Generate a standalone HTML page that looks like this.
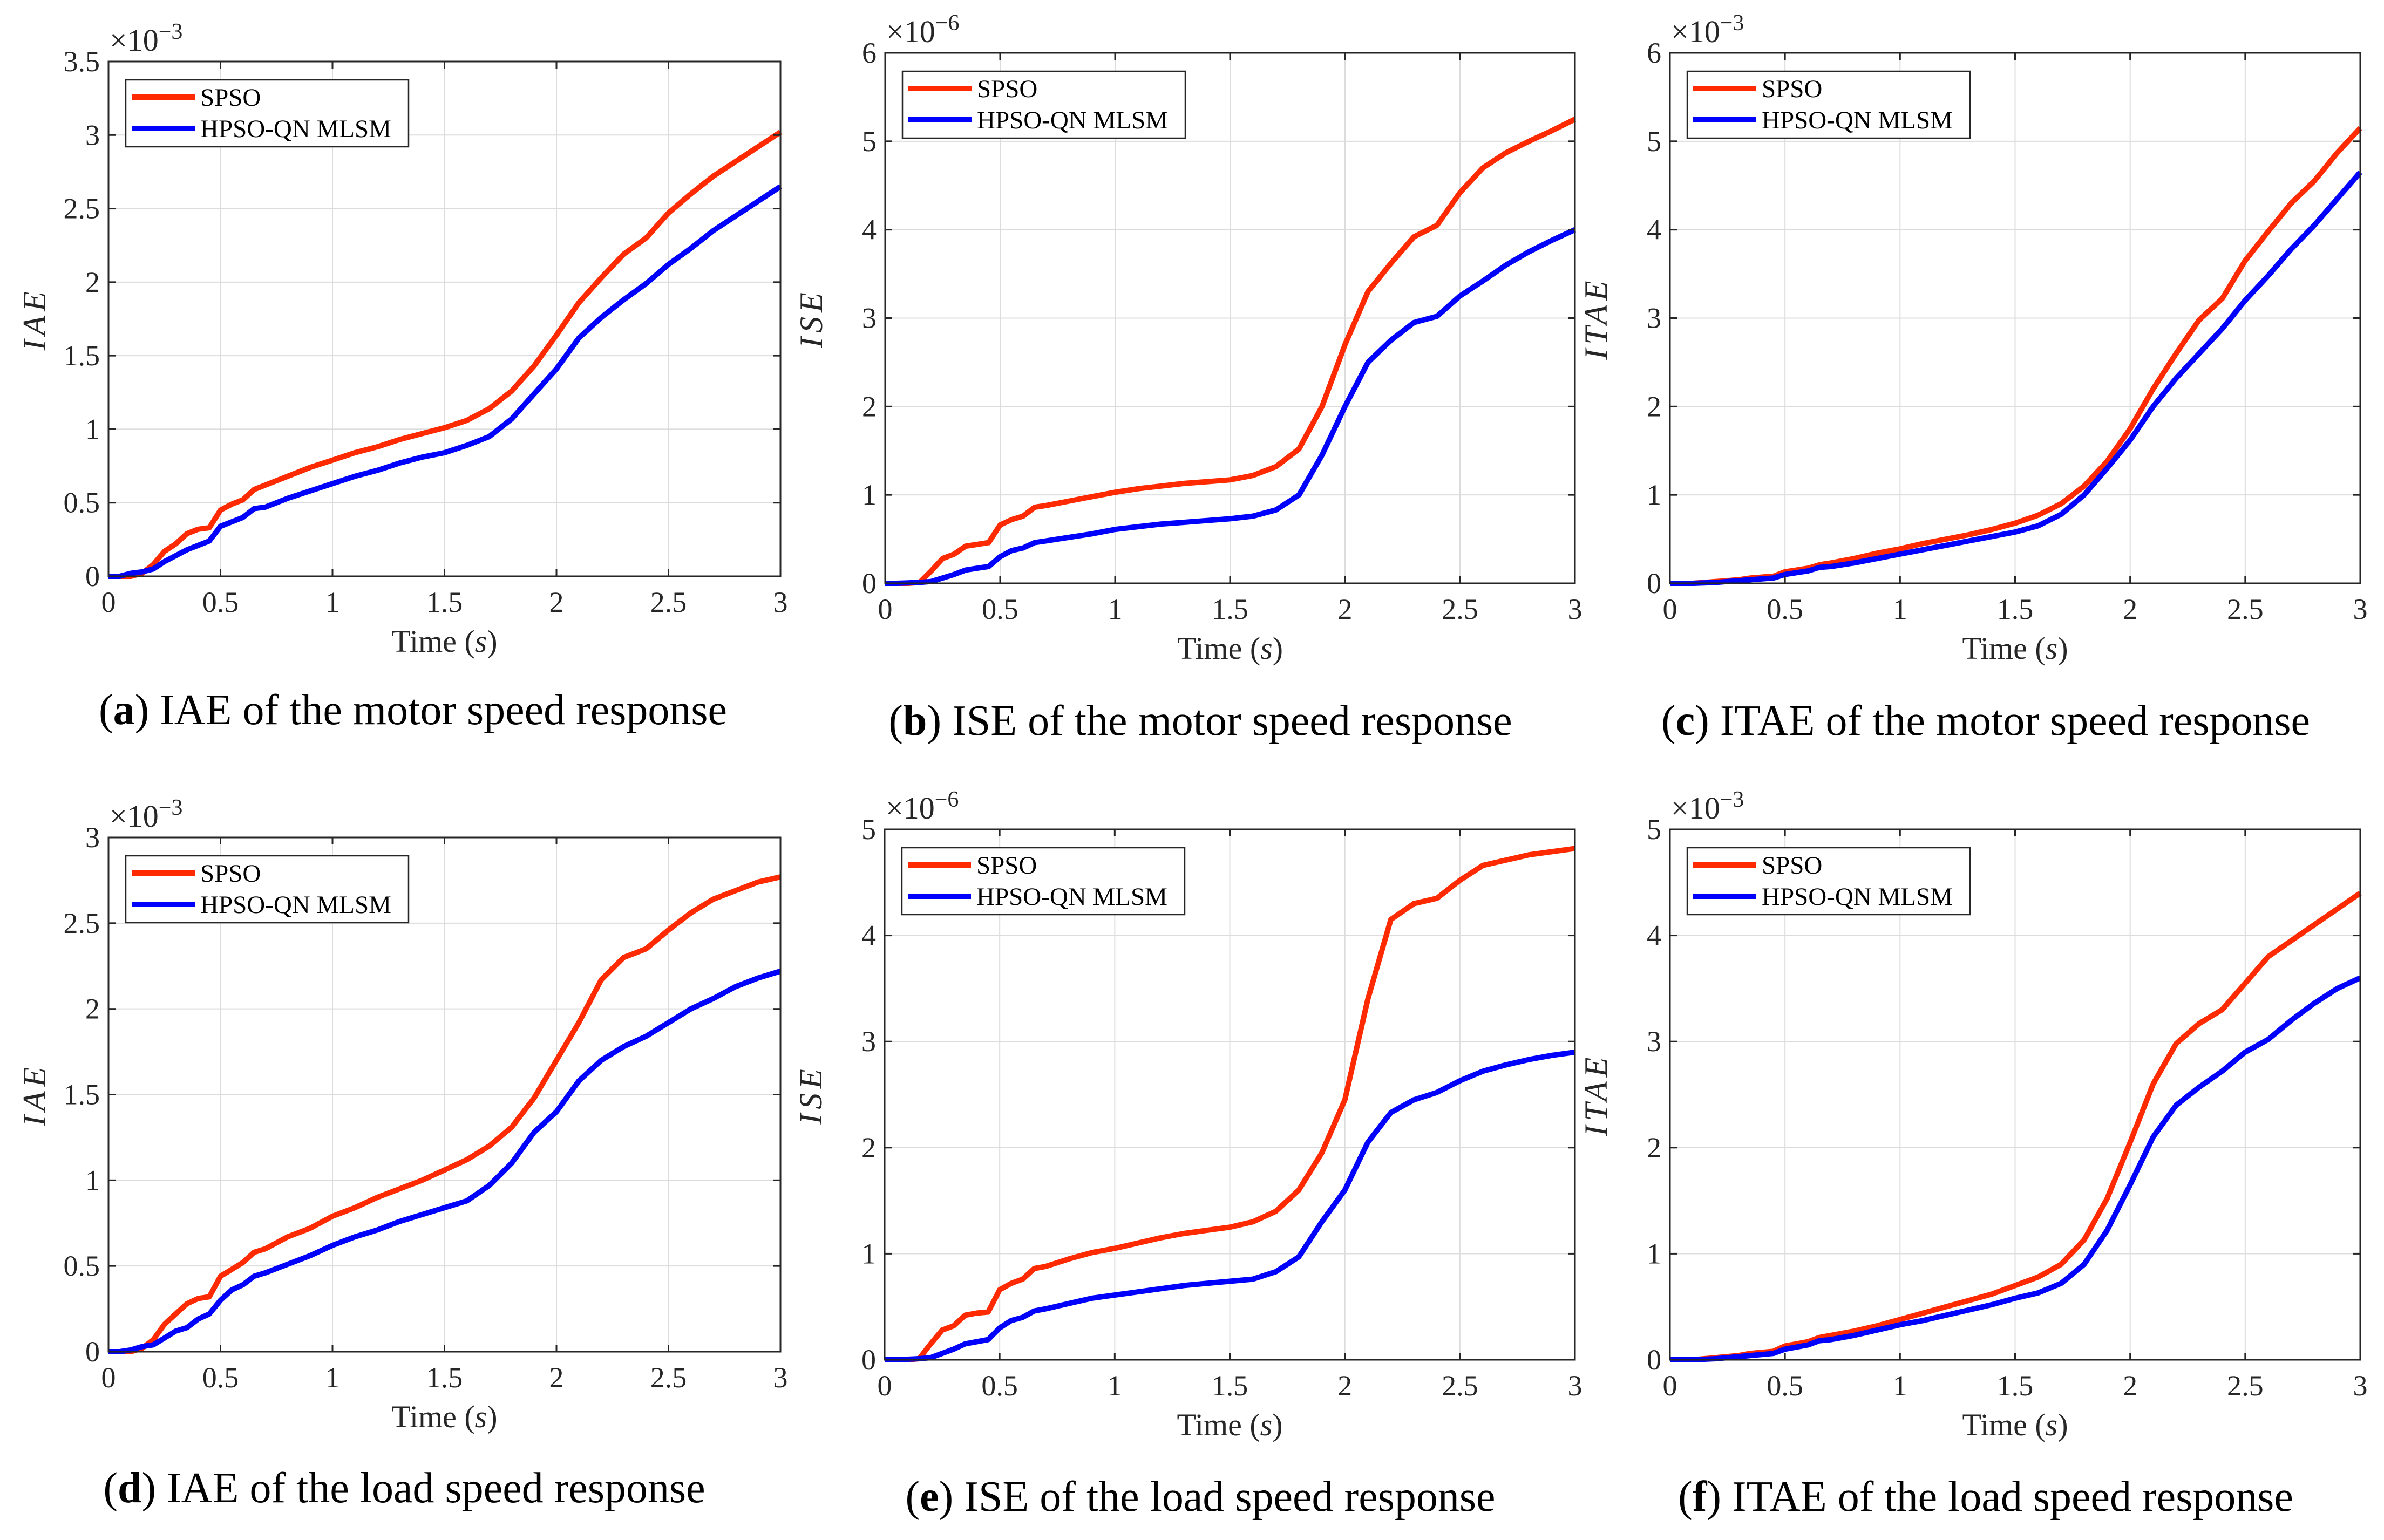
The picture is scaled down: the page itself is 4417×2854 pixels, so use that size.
<!DOCTYPE html>
<html><head><meta charset="utf-8">
<style>
html,body{margin:0;padding:0;background:#fff;}
svg{display:block;font-family:"Liberation Serif",serif;}
</style></head>
<body>
<svg id="fig" width="4417" height="2854" viewBox="0 0 4417 2854" xmlns="http://www.w3.org/2000/svg"></svg>
<script>
// shared time samples (s)
const times = [0,0.05,0.1,0.15,0.2,0.25,0.3,0.35,0.4,0.45,0.5,0.55,0.6,0.65,0.7,0.8,0.9,1.0,1.1,1.2,1.3,1.4,1.5,1.6,1.7,1.8,1.9,2.0,2.1,2.2,2.3,2.4,2.5,2.6,2.7,2.8,2.9,3.0];
const xTicks = [0,0.5,1,1.5,2,2.5,3];
const xTickLabels = ["0","0.5","1","1.5","2","2.5","3"];
const seriesNames = ["SPSO","HPSO-QN MLSM"];

const aSPSO = [0,0,0,0.02,0.08,0.17,0.22,0.29,0.32,0.33,0.45,0.49,0.52,0.59,0.62,0.68,0.74,0.79,0.84,0.88,0.93,0.97,1.01,1.06,1.14,1.26,1.43,1.64,1.86,2.03,2.19,2.3,2.47,2.6,2.72,2.82,2.92,3.02];
const aHPSO = [0,0,0.02,0.03,0.05,0.1,0.14,0.18,0.21,0.24,0.34,0.37,0.4,0.46,0.47,0.53,0.58,0.63,0.68,0.72,0.77,0.81,0.84,0.89,0.95,1.07,1.24,1.41,1.62,1.76,1.88,1.99,2.12,2.23,2.35,2.45,2.55,2.65];
const aYTicks = [0,0.5,1,1.5,2,2.5,3,3.5];
const aYTickLabels = ["0","0.5","1","1.5","2","2.5","3","3.5"];

const bSPSO = [0,0,0,0.01,0.14,0.28,0.33,0.42,0.44,0.46,0.66,0.72,0.76,0.86,0.88,0.93,0.98,1.03,1.07,1.1,1.13,1.15,1.17,1.22,1.32,1.52,2.0,2.7,3.3,3.62,3.92,4.05,4.42,4.7,4.87,5.0,5.12,5.25];
const bHPSO = [0,0,0.005,0.01,0.02,0.06,0.1,0.15,0.17,0.19,0.3,0.37,0.4,0.46,0.48,0.52,0.56,0.61,0.64,0.67,0.69,0.71,0.73,0.76,0.83,1.0,1.45,2.0,2.5,2.75,2.95,3.02,3.25,3.42,3.6,3.75,3.88,4.0];
const bYTicks = [0,1,2,3,4,5,6];
const bYTickLabels = ["0","1","2","3","4","5","6"];

const cSPSO = [0,0,0,0.01,0.02,0.03,0.04,0.06,0.07,0.08,0.13,0.15,0.17,0.21,0.23,0.28,0.34,0.39,0.45,0.5,0.55,0.61,0.68,0.77,0.9,1.1,1.38,1.75,2.2,2.6,2.98,3.22,3.65,3.98,4.3,4.55,4.87,5.15];
const cHPSO = [0,0,0,0.005,0.01,0.02,0.03,0.04,0.05,0.06,0.1,0.12,0.14,0.18,0.19,0.23,0.28,0.33,0.38,0.43,0.48,0.53,0.58,0.65,0.78,1.0,1.3,1.62,2.0,2.32,2.6,2.88,3.2,3.48,3.78,4.05,4.35,4.65];
const cYTicks = [0,1,2,3,4,5,6];
const cYTickLabels = ["0","1","2","3","4","5","6"];

const dSPSO = [0,0,0,0.02,0.07,0.16,0.22,0.28,0.31,0.32,0.44,0.48,0.52,0.58,0.6,0.67,0.72,0.79,0.84,0.9,0.95,1.0,1.06,1.12,1.2,1.31,1.48,1.7,1.92,2.17,2.3,2.35,2.46,2.56,2.64,2.69,2.74,2.77];
const dHPSO = [0,0,0.01,0.03,0.04,0.08,0.12,0.14,0.19,0.22,0.3,0.36,0.39,0.44,0.46,0.51,0.56,0.62,0.67,0.71,0.76,0.8,0.84,0.88,0.97,1.1,1.28,1.4,1.58,1.7,1.78,1.84,1.92,2.0,2.06,2.13,2.18,2.22];
const dYTicks = [0,0.5,1,1.5,2,2.5,3];
const dYTickLabels = ["0","0.5","1","1.5","2","2.5","3"];

const eSPSO = [0,0,0,0.01,0.15,0.28,0.32,0.42,0.44,0.45,0.66,0.72,0.76,0.86,0.88,0.95,1.01,1.05,1.1,1.15,1.19,1.22,1.25,1.3,1.4,1.6,1.95,2.45,3.4,4.15,4.3,4.35,4.52,4.66,4.71,4.76,4.79,4.82];
const eHPSO = [0,0,0.005,0.01,0.02,0.06,0.1,0.15,0.17,0.19,0.3,0.37,0.4,0.46,0.48,0.53,0.58,0.61,0.64,0.67,0.7,0.72,0.74,0.76,0.83,0.97,1.3,1.6,2.05,2.33,2.45,2.52,2.63,2.72,2.78,2.83,2.87,2.9];
const eYTicks = [0,1,2,3,4,5];
const eYTickLabels = ["0","1","2","3","4","5"];

const fSPSO = [0,0,0,0.01,0.02,0.03,0.04,0.06,0.07,0.08,0.13,0.15,0.17,0.21,0.23,0.27,0.32,0.38,0.44,0.5,0.56,0.62,0.7,0.78,0.9,1.13,1.52,2.05,2.6,2.98,3.17,3.3,3.55,3.8,3.95,4.1,4.25,4.4];
const fHPSO = [0,0,0,0.005,0.01,0.02,0.03,0.04,0.05,0.06,0.1,0.12,0.14,0.18,0.19,0.23,0.28,0.33,0.37,0.42,0.47,0.52,0.58,0.63,0.72,0.9,1.22,1.65,2.1,2.4,2.57,2.72,2.9,3.02,3.2,3.36,3.5,3.6];
const fYTicks = [0,1,2,3,4,5];
const fYTickLabels = ["0","1","2","3","4","5"];

const NS = "http://www.w3.org/2000/svg";
const svg = document.getElementById("fig");
function mk(tag, attrs, parent){
  const e = document.createElementNS(NS, tag);
  for (const k in attrs) e.setAttribute(k, attrs[k]);
  parent.appendChild(e);
  return e;
}

const panels = [
  {id:"a", L:201, R:1446, T:114, B:1068, ymax:3.5, yt:aYTicks, ytl:aYTickLabels, s1:aSPSO, s2:aHPSO, ylab:"IAE", exp:"\u22123", cap:"IAE of the motor speed response", cx:765, cy:1342},
  {id:"b", L:1640, R:2918, T:98, B:1081, ymax:6, yt:bYTicks, ytl:bYTickLabels, s1:bSPSO, s2:bHPSO, ylab:"ISE", exp:"\u22126", cap:"ISE of the motor speed response", cx:2224, cy:1362},
  {id:"c", L:3094, R:4373, T:98, B:1081, ymax:6, yt:cYTicks, ytl:cYTickLabels, s1:cSPSO, s2:cHPSO, ylab:"ITAE", exp:"\u22123", cap:"ITAE of the motor speed response", cx:3679, cy:1362},
  {id:"d", L:201, R:1446, T:1552, B:2505, ymax:3, yt:dYTicks, ytl:dYTickLabels, s1:dSPSO, s2:dHPSO, ylab:"IAE", exp:"\u22123", cap:"IAE of the load speed response", cx:749, cy:2784},
  {id:"e", L:1639, R:2918, T:1537, B:2520, ymax:5, yt:eYTicks, ytl:eYTickLabels, s1:eSPSO, s2:eHPSO, ylab:"ISE", exp:"\u22126", cap:"ISE of the load speed response", cx:2224, cy:2800},
  {id:"f", L:3094, R:4373, T:1537, B:2520, ymax:5, yt:fYTicks, ytl:fYTickLabels, s1:fSPSO, s2:fHPSO, ylab:"ITAE", exp:"\u22123", cap:"ITAE of the load speed response", cx:3679, cy:2800}
];

panels.forEach(p => {
  const g = mk("g", {}, svg);
  
  
  const xs = t => p.L + (t / 3) * (p.R - p.L);
  const ys = v => p.B - (v / p.ymax) * (p.B - p.T);

  const grid = mk("g", {stroke:"#dcdcdc", "stroke-width":2}, g);
  
  
  xTicks.forEach(t => { mk("line", {x1:xs(t), x2:xs(t), y1:p.T, y2:p.B}, grid); });
  p.yt.forEach(v => { mk("line", {x1:p.L, x2:p.R, y1:ys(v), y2:ys(v)}, grid); });

  const cols = ["#ff2a00", "#0000ff"];
  [p.s1, p.s2].forEach((s, i) => {
    const d = s.map((v, k) => (k ? "L" : "M") + xs(times[k]).toFixed(1) + "," + ys(v).toFixed(1)).join("");
    const path = mk("path", {d:d, fill:"none", stroke:cols[i], "stroke-width":10, "stroke-linejoin":"round"}, g);
    
    
  });

  const box = mk("rect", {x:p.L, y:p.T, width:p.R - p.L, height:p.B - p.T, fill:"none", stroke:"#262626", "stroke-width":3}, g);
  
  
  const tk = mk("g", {stroke:"#262626", "stroke-width":3}, g);
  xTicks.forEach(t => {
    mk("line", {x1:xs(t), x2:xs(t), y1:p.B, y2:p.B - 13}, tk);
    mk("line", {x1:xs(t), x2:xs(t), y1:p.T, y2:p.T + 13}, tk);
  });
  p.yt.forEach(v => {
    mk("line", {x1:p.L, x2:p.L + 13, y1:ys(v), y2:ys(v)}, tk);
    mk("line", {x1:p.R, x2:p.R - 13, y1:ys(v), y2:ys(v)}, tk);
  });

  xTicks.forEach((t, i) => {
    const tx = mk("text", {x:xs(t), y:p.B + 66, "font-size":54, "text-anchor":"middle", fill:"#262626"}, g);
    tx.textContent = xTickLabels[i];
    
    
  });
  p.yt.forEach((v, i) => {
    const tx = mk("text", {x:p.L - 16, y:ys(v) + 18, "font-size":54, "text-anchor":"end", fill:"#262626"}, g);
    tx.textContent = p.ytl[i];
    
    
  });

  const ex = mk("text", {x:p.L + 2, y:p.T - 20, "font-size":58, fill:"#262626"}, g);
  
  
  ex.textContent = "\u00d710";
  const sup = mk("tspan", {"font-size":42, dy:-22}, ex);
  sup.textContent = p.exp;

  const xl = mk("text", {x:(p.L + p.R) / 2, y:p.B + 140, "font-size":58, "text-anchor":"middle", fill:"#262626"}, g);
  
  
  xl.textContent = "Time (";
  const si = mk("tspan", {"font-style":"italic"}, xl); si.textContent = "s";
  const cl = mk("tspan", {}, xl); cl.textContent = ")";

  const yx = p.L - 117, yy = (p.T + p.B) / 2;
  const yl = mk("text", {x:yx, y:yy, "font-size":60, "font-style":"italic", "text-anchor":"middle", fill:"#262626", "letter-spacing":8, transform:"rotate(-90 " + yx + " " + yy + ")"}, g);
  
  
  yl.textContent = p.ylab;

  const lg = mk("g", {}, g);
  
  
  mk("rect", {x:p.L + 32, y:p.T + 34, width:524, height:124, fill:"#fff", stroke:"#262626", "stroke-width":2.5}, lg);
  seriesNames.forEach((n, i) => {
    const cy = p.T + 66 + i * 58;
    const ln = mk("line", {x1:p.L + 43, x2:p.L + 160, y1:cy, y2:cy, stroke:cols[i], "stroke-width":10}, lg);
    
    
    const t = mk("text", {x:p.L + 170, y:cy + 16, "font-size":47, fill:"#000"}, lg);
    
    
    t.textContent = n;
  });

  const cap = mk("text", {x:p.cx, y:p.cy, "font-size":80, "text-anchor":"middle", fill:"#000"}, g);
  
  
  const c1 = mk("tspan", {}, cap); c1.textContent = "(";
  const c2 = mk("tspan", {"font-weight":"bold"}, cap); c2.textContent = p.id;
  const c3 = mk("tspan", {}, cap); c3.textContent = ") " + p.cap;
});
</script>
</body></html>
